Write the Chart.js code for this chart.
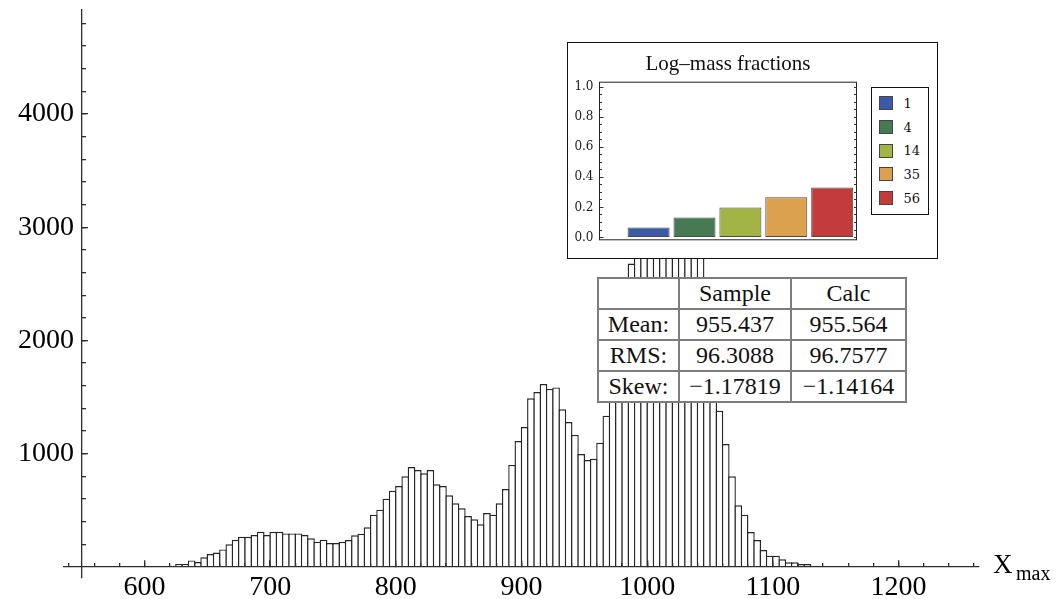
<!DOCTYPE html>
<html>
<head>
<meta charset="utf-8">
<script src="https://cdn.jsdelivr.net/npm/chart.js@4/dist/chart.umd.min.js"></script>
<style>
  html, body { margin: 0; padding: 0; background: #fff; overflow: hidden; }
  #wrap { position: relative; width: 1062px; height: 599px; }
  #hist { position: absolute; left: 0; top: 0; }
  #inset {
    position: absolute; left: 567px; top: 42px; width: 371px; height: 217px;
    box-sizing: border-box; border: 1.5px solid #111; background: #fff;
  }
  #fractions { position: absolute; left: 0; top: 0; }
  #legendBox {
    position: absolute; left: 303px; top: 44px; width: 58px; height: 128px;
    box-sizing: border-box; border: 1.5px solid #111; padding-top: 3.5px;
  }
  #legendBox .row {
    height: 23.7px; display: flex; align-items: center;
    font: 13px "DejaVu Serif", serif; color: #111;
  }
  #legendBox .swatch {
    width: 12px; height: 12px; border: 1px solid #444;
    margin-left: 6.5px; margin-right: 11px;
  }
  #stats {
    position: absolute; left: 597px; top: 277px; width: 308px;
    border-collapse: collapse; table-layout: fixed; background: #fff;
    font: 24px "Liberation Serif", "Times New Roman", serif; color: #111;
  }
  #stats td {
    border: 2px solid #7d7d7d; height: 29px; padding: 0;
    text-align: center; line-height: 29px; white-space: nowrap;
  }
</style>
</head>
<body>
<div id="wrap">
  <canvas id="hist" width="1062" height="599"></canvas>
  <div id="inset">
    <canvas id="fractions" width="300" height="214"></canvas>
    <div id="legendBox"></div>
  </div>
  <table id="stats">
    <colgroup><col style="width:81px"><col style="width:112px"><col style="width:115px"></colgroup>
    <tbody></tbody>
  </table>
</div>
<script>
// Xmax histogram, 5 g/cm2 bins starting at 615
const binStart = 615;
const binWidth = 5;
const counts = [
  10, 12, 27, 27, 58, 44, 86, 115, 128, 155,
  200, 240, 267, 267, 282, 311, 282, 311, 311, 297,
  297, 297, 282, 253, 224, 240, 212, 212, 222, 238,
  280, 294, 350, 462, 506, 603, 674, 715, 801, 883,
  856, 827, 856, 730, 715, 633, 562, 518, 450, 421,
  377, 477, 462, 562, 689, 901, 1112, 1236, 1489, 1545,
  1616, 1572, 1586, 1392, 1280, 1166, 998, 945, 956, 1098,
  1336, 1750, 2150, 2450, 2680, 3000, 3450, 3850, 4150, 4350,
  4450, 4400, 4250, 4050, 3700, 3150, 2250, 1650, 1380, 1086,
  801, 545, 462, 309, 238, 150, 100, 100, 68, 41,
  41, 26, 26, 12, 12, 10, 8, 6,
];
const xTicks = [600, 700, 800, 900, 1000, 1100, 1200];
const yTicks = [1000, 2000, 3000, 4000];

// composition inset
const massNumbers = ['1', '4', '14', '35', '56'];
const massFractions = [0.067, 0.133, 0.2, 0.267, 0.333];
const massColors = ['#3b5ba6', '#457a53', '#a2b443', '#dca14f', '#c13c3b'];
const fracTicks = [0, 0.2, 0.4, 0.6, 0.8, 1.0];

// moments table
const statHeader = ['', 'Sample', 'Calc'];
const statNames = ['Mean:', 'RMS:', 'Skew:'];
const sampleStats = [955.437, 96.3088, -1.17819];
const calcStats = [955.564, 96.7577, -1.14164];

const serif = '"Liberation Serif", "Times New Roman", serif';
const axisColor = '#2e2e2e';

const minorX = [];
for (let v = 540; v <= 1260; v += 20) minorX.push(v);
const minorY = [];
for (let v = 200; v <= 4800; v += 200) minorY.push(v);

const setTicks = (list) => (scale) => { scale.ticks = list.map((v) => ({ value: v })); };

const tickGrid = (len) => ({
  offset: false,
  drawOnChartArea: false,
  tickLength: len,
  color: axisColor,
  tickColor: axisColor,
  lineWidth: 1.3,
  tickWidth: 1.3,
  z: 1,
});

const axisTitle = {
  id: 'axisTitle',
  afterDraw(chart) {
    const { ctx, chartArea } = chart;
    const y0 = chart.scales.y.getPixelForValue(0);
    ctx.save();
    ctx.fillStyle = '#000';
    ctx.textBaseline = 'alphabetic';
    ctx.font = '27px ' + serif;
    ctx.fillText('X', chartArea.right + 14, y0 + 6);
    ctx.font = '20px ' + serif;
    ctx.fillText('max', chartArea.right + 37, y0 + 13);
    ctx.restore();
  },
};

new Chart(document.getElementById('hist'), {
  type: 'bar',
  data: {
    datasets: [{
      data: counts.map((c, i) => ({ x: binStart + binWidth * (i + 0.5), y: c })),
      backgroundColor: '#fff',
      borderColor: '#262626',
      borderWidth: 1.4,
      borderSkipped: 'start',
      barPercentage: 1.22,
      categoryPercentage: 1,
    }],
  },
  options: {
    responsive: false,
    animation: false,
    layout: { padding: { left: 0, top: 10, right: 83, bottom: 21 } },
    plugins: { legend: { display: false }, tooltip: { enabled: false } },
    scales: {
      x: {
        axis: 'x',
        type: 'linear',
        offset: false,
        min: 536,
        max: 1264,
        position: { y: 0 },
        afterBuildTicks: setTicks(xTicks),
        grid: tickGrid(-7),
        border: { color: axisColor, width: 1.3, z: 1 },
        ticks: {
          padding: 11,
          color: '#000',
          autoSkip: false,
          maxRotation: 0,
          font: { family: serif, size: 28 },
          callback: (v) => String(v),
        },
      },
      xMinor: {
        axis: 'x',
        type: 'linear',
        offset: false,
        min: 536,
        max: 1264,
        position: { y: 0 },
        afterBuildTicks: setTicks(minorX),
        grid: tickGrid(-4),
        border: { display: false },
        ticks: { display: false },
      },
      y: {
        axis: 'y',
        type: 'linear',
        min: -97,
        max: 4918,
        position: { x: 550 },
        afterBuildTicks: setTicks(yTicks),
        grid: tickGrid(-7),
        border: { color: axisColor, width: 1.3, z: 1 },
        ticks: { display: false },
      },
      yMinor: {
        axis: 'y',
        type: 'linear',
        min: -97,
        max: 4918,
        position: { x: 550 },
        afterBuildTicks: setTicks(minorY),
        grid: tickGrid(-4),
        border: { display: false },
        ticks: { display: false },
      },
      yLabels: {
        axis: 'y',
        type: 'linear',
        min: -97,
        max: 4918,
        position: 'left',
        afterBuildTicks: setTicks(yTicks),
        afterFit: (scale) => { scale.width = 64; },
        grid: { display: false, drawTicks: false },
        border: { display: false },
        ticks: {
          mirror: true,
          crossAlign: 'near',
          padding: -46,
          color: '#000',
          autoSkip: false,
          font: { family: serif, size: 28 },
          callback: (v) => String(v),
        },
      },
    },
  },
  plugins: [axisTitle],
});

// frame round the fractions plot
const frame = {
  id: 'frame',
  afterDatasetsDraw(chart) {
    const { ctx, chartArea: a } = chart;
    ctx.save();
    ctx.strokeStyle = '#222';
    ctx.lineWidth = 1;
    ctx.strokeRect(a.left, a.top, a.right - a.left, a.bottom - a.top);
    ctx.restore();
  },
};

const fracMinor = [];
for (let v = 0; v <= 1.0001; v += 0.05) fracMinor.push(Math.round(v * 100) / 100);

const fracGrid = (len) => ({
  offset: false, drawOnChartArea: false, tickLength: len, tickColor: '#333', tickWidth: 1, z: 1,
});

new Chart(document.getElementById('fractions'), {
  type: 'bar',
  data: {
    datasets: [{
      data: massFractions.map((f, i) => ({ x: i + 1, y: f })),
      backgroundColor: massColors,
      borderColor: '#4a4a4a',
      borderWidth: 1,
      borderSkipped: false,
      barPercentage: 0.915,
      categoryPercentage: 1,
    }],
  },
  options: {
    responsive: false,
    animation: false,
    layout: { padding: { left: 0, top: 0, right: 11.5, bottom: 13.5 } },
    plugins: {
      legend: { display: false },
      tooltip: { enabled: false },
      title: {
        display: true,
        fullSize: false,
        text: 'Log\u2013mass fractions',
        color: '#111',
        font: { family: serif, size: 21, weight: 'normal' },
        padding: { top: 9, bottom: 5 },
      },
    },
    scales: {
      x: { type: 'linear', offset: false, min: -0.07, max: 5.53, display: false },
      y: {
        type: 'linear',
        min: -0.015,
        max: 1.032,
        position: 'left',
        afterBuildTicks: setTicks(fracTicks),
        afterFit: (scale) => { scale.width = 31.5; },
        grid: fracGrid(-4),
        border: { display: false },
        ticks: {
          padding: 10,
          color: '#222',
          font: { family: '"DejaVu Serif", serif', size: 12 },
          callback: (v) => v.toFixed(1),
        },
      },
      yMinor: {
        axis: 'y',
        type: 'linear',
        min: -0.015,
        max: 1.032,
        position: { x: -0.07 },
        afterBuildTicks: setTicks(fracMinor),
        grid: fracGrid(-2),
        border: { display: false },
        ticks: { display: false },
      },
      yRight: {
        axis: 'y',
        type: 'linear',
        min: -0.015,
        max: 1.032,
        position: { x: 5.53 },
        afterBuildTicks: setTicks(fracMinor),
        grid: fracGrid(3),
        border: { display: false },
        ticks: { display: false },
      },
    },
  },
  plugins: [frame],
});

// legend for the fractions plot
const legendBox = document.getElementById('legendBox');
massNumbers.forEach((m, i) => {
  const row = document.createElement('div');
  row.className = 'row';
  const sw = document.createElement('span');
  sw.className = 'swatch';
  sw.style.background = massColors[i];
  const label = document.createElement('span');
  label.textContent = m;
  row.appendChild(sw);
  row.appendChild(label);
  legendBox.appendChild(row);
});

// moments table
const fmt = (v) => String(v).replace('-', '\u2212');
const body = document.querySelector('#stats tbody');
const addRow = (cells) => {
  const tr = document.createElement('tr');
  cells.forEach((c) => {
    const td = document.createElement('td');
    td.textContent = c;
    tr.appendChild(td);
  });
  body.appendChild(tr);
};
addRow(statHeader);
statNames.forEach((name, i) => addRow([name, fmt(sampleStats[i]), fmt(calcStats[i])]));
</script>
</body>
</html>
